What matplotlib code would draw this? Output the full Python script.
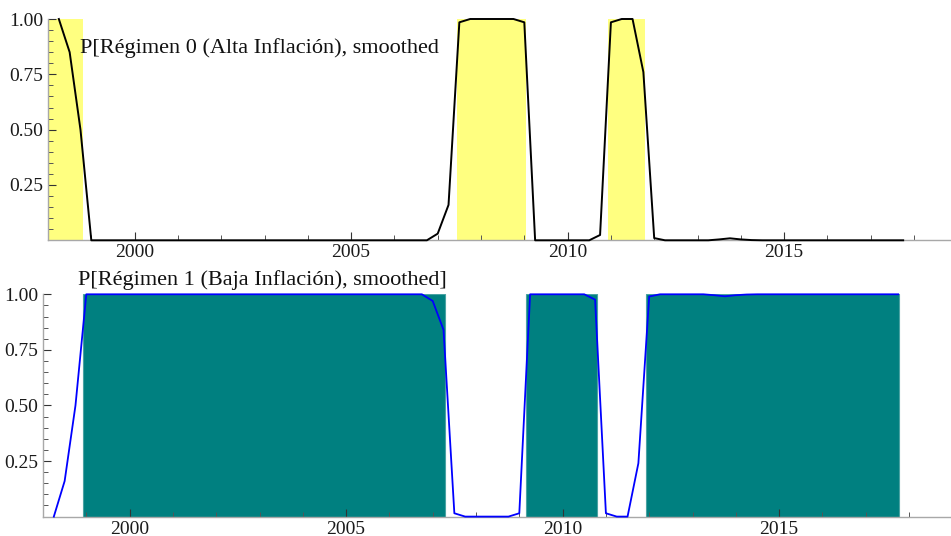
import matplotlib
matplotlib.use("Agg")
import matplotlib.pyplot as plt
from matplotlib.ticker import MultipleLocator, FixedLocator

# Quarterly dates: 1998Q2 (1998.25) ... 2017Q4 (2017.75)
start_year = 1998.25
n_quarters = 79
dates = [start_year + 0.25 * i for i in range(n_quarters)]

# Smoothed probability of regime 0 (high inflation)
p_regime0 = [
    1.00, 0.85, 0.50,                                   # 1998.25 - 1998.75
    0.0, 0.0, 0.0, 0.0, 0.0, 0.0, 0.0, 0.0,             # 1999.0 - 2000.75
    0.0, 0.0, 0.0, 0.0, 0.0, 0.0, 0.0, 0.0,             # 2001.0 - 2002.75
    0.0, 0.0, 0.0, 0.0, 0.0, 0.0, 0.0, 0.0,             # 2003.0 - 2004.75
    0.0, 0.0, 0.0, 0.0, 0.0, 0.0, 0.0, 0.0,             # 2005.0 - 2006.75
    0.03, 0.16, 0.985, 1.0, 1.0, 1.0, 1.0, 1.0,         # 2007.0 - 2008.75
    0.985, 0.0, 0.0, 0.0, 0.0, 0.0, 0.0, 0.024,         # 2009.0 - 2010.75
    0.985, 1.0, 1.0, 0.76, 0.01, 0.0, 0.0, 0.0,         # 2011.0 - 2012.75
    0.0, 0.0, 0.004, 0.009, 0.004, 0.001, 0.0, 0.0,     # 2013.0 - 2014.75
    0.0, 0.0, 0.0, 0.0, 0.0, 0.0, 0.0, 0.0,             # 2015.0 - 2016.75
    0.0, 0.0, 0.0, 0.0,                                 # 2017.0 - 2017.75
]

# Smoothed probability of regime 1 (low inflation)
p_regime1 = [
    0.0, 0.16, 0.50,
    1.0, 1.0, 1.0, 1.0, 1.0, 1.0, 1.0, 1.0,
    1.0, 1.0, 1.0, 1.0, 1.0, 1.0, 1.0, 1.0,
    1.0, 1.0, 1.0, 1.0, 1.0, 1.0, 1.0, 1.0,
    1.0, 1.0, 1.0, 1.0, 1.0, 1.0, 1.0, 1.0,
    0.97, 0.84, 0.015, 0.0, 0.0, 0.0, 0.0, 0.0,
    0.015, 1.0, 1.0, 1.0, 1.0, 1.0, 1.0, 0.976,
    0.015, 0.0, 0.0, 0.24, 0.99, 1.0, 1.0, 1.0,
    1.0, 1.0, 0.996, 0.991, 0.996, 0.999, 1.0, 1.0,
    1.0, 1.0, 1.0, 1.0, 1.0, 1.0, 1.0, 1.0,
    1.0, 1.0, 1.0, 1.0,
]

# Shaded regime periods (start, end)
regime0_spans = [(1998.0, 1998.80), (2007.45, 2009.05), (2010.94, 2011.79)]
regime1_spans = [(1998.92, 2007.28), (2009.15, 2010.79), (2011.92, 2017.78)]

title0 = "P[Régimen 0 (Alta Inflación), smoothed"
title1 = "P[Régimen 1 (Baja Inflación), smoothed]"
x_major = [2000, 2005, 2010, 2015]
y_major = [0.25, 0.50, 0.75, 1.00]

plt.rcParams['font.family'] = ['Liberation Serif', 'DejaVu Serif']

W, H = 951, 536
fig = plt.figure(figsize=(W / 100, H / 100), dpi=100)

ax0 = fig.add_axes([48 / W, 1 - 240.3 / H, (W - 48) / W, (240.3 - 19) / H])
ax1 = fig.add_axes([43 / W, 1 - 516.6 / H, (W - 43) / W, (516.6 - 294.3) / H])

xlim0 = (1998.0, 1998.0 + (W - 48) / 43.3)
xlim1 = (1998.0, 1998.0 + (W - 43) / 43.3)

def style(ax, xlim):
    ax.set_xlim(*xlim)
    ax.set_ylim(0, 1.0)
    for s in ['top', 'right']:
        ax.spines[s].set_visible(False)
    for s in ['left', 'bottom']:
        ax.spines[s].set_color('#a8a8a8')
        ax.spines[s].set_linewidth(1.0)
    ax.xaxis.set_major_locator(FixedLocator(x_major))
    ax.xaxis.set_minor_locator(MultipleLocator(1))
    ax.yaxis.set_major_locator(FixedLocator(y_major))
    ax.yaxis.set_minor_locator(MultipleLocator(0.05))
    ax.set_yticklabels([f"{v:.2f}" for v in y_major])
    ax.tick_params(axis='both', which='major', direction='in', length=6,
                   width=0.8, color='#333333', labelsize=14, labelcolor='#1a1a1a')
    ax.tick_params(axis='both', which='minor', direction='in', length=3.5,
                   width=0.7, color='#555555')
    ax.tick_params(axis='x', which='major', pad=3)
    ax.tick_params(axis='y', which='major', pad=3.5)
    ax.set_facecolor('none')

style(ax0, xlim0)
style(ax1, xlim1)

for a, b in regime0_spans:
    ax0.axvspan(a, b, ymin=0, ymax=1, color='#ffff80', lw=0, zorder=0)
ax0.plot(dates, p_regime0, color='black', lw=1.4, zorder=3, clip_on=False)

for a, b in regime1_spans:
    ax1.axvspan(a, b, ymin=0, ymax=1, facecolor='#008080', edgecolor='#4aa3a3',
                lw=0.8, zorder=0)
ax1.plot(dates, p_regime1, color='#0000ff', lw=1.3, zorder=3, clip_on=False)

fig.text(80 / W, 1 - 53 / H, title0, fontsize=16, va='baseline', ha='left',
         color='#111111')
fig.text(78 / W, 1 - 285.5 / H, title1, fontsize=16, va='baseline', ha='left',
         color='#111111')

fig.savefig('out.png', dpi=100)
